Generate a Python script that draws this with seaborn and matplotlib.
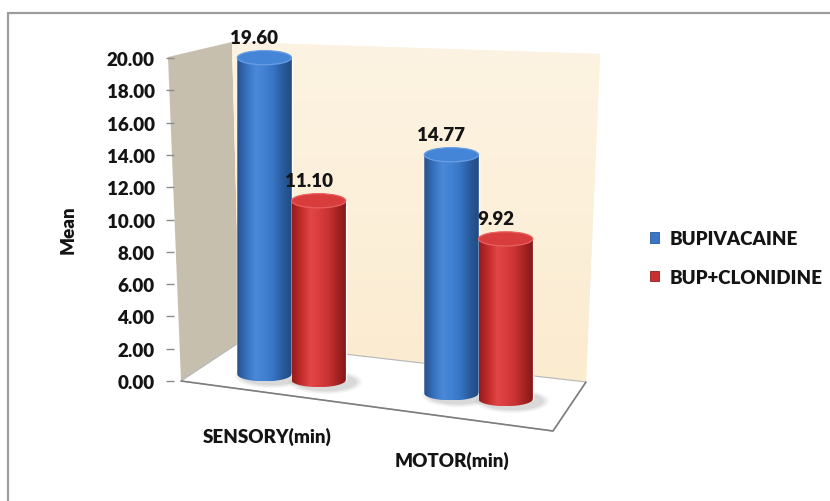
import numpy as np
import pandas as pd
import matplotlib
matplotlib.use("Agg")
import matplotlib.pyplot as plt
import seaborn as sns
from matplotlib.patches import Polygon, Ellipse, PathPatch, Patch
from matplotlib.path import Path
from matplotlib.colors import LinearSegmentedColormap
from matplotlib.lines import Line2D

# ---- data -------------------------------------------------------------
categories = ["SENSORY(min)", "MOTOR(min)"]
groups = ["BUPIVACAINE", "BUP+CLONIDINE"]
bupivacaine = [19.60, 14.77]
bup_clonidine = [11.10, 9.92]
y_ticks = [0, 2, 4, 6, 8, 10, 12, 14, 16, 18, 20]
y_label = "Mean"

df = pd.DataFrame({
    "category": categories * 2,
    "group": [groups[0]] * len(categories) + [groups[1]] * len(categories),
    "value": bupivacaine + bup_clonidine,
})

# ---- style ------------------------------------------------------------
sns.set_style("white")
plt.rcParams["font.family"] = ["Lato", "DejaVu Sans"]
WT = "heavy"
plt.rcParams["font.weight"] = WT
TXT = "#141414"
FS = 13.5

W, H = 830, 502
fig = plt.figure(figsize=(W / 100, H / 100), dpi=100)
ax = fig.add_axes([0, 0, 1, 1])

# canvas layout: category centre spacing and value scale in pixels
X0, XS = 291.5, 187.0
Y0, YS = 382.0, 16.15


def px(x):
    return (x - X0) / XS


def py(y):
    return (Y0 - y) / YS


palette = ["#3a76c6", "#c9302f"]
sns.barplot(data=df, x="category", y="value", hue="group", order=categories,
            hue_order=groups, palette=palette, width=0.58, ax=ax,
            legend=False, zorder=2)
bars = list(ax.patches)

ax.set_autoscale_on(False)
ax.set_xlim(px(0), px(W))
ax.set_ylim(py(H), py(0))
ax.set_xticks([])
ax.set_xlabel("")
ax.set_ylabel("")
for s in ax.spines.values():
    s.set_visible(False)


def poly(points, **kw):
    p = Polygon([(px(a), py(b)) for a, b in points], closed=True, **kw)
    ax.add_patch(p)
    return p


# ---- walls and floor ----------------------------------------------------
poly([(168, 58), (232, 43), (240, 343), (181, 382)],
     facecolor="#c6bfae", edgecolor="none", zorder=0.5)

back = poly([(232, 43), (600, 55), (586, 383), (240, 343)],
            facecolor="#fcf0d9", edgecolor="none", zorder=0.5)
wall_cmap = LinearSegmentedColormap.from_list("wall", ["#fbebcf", "#fcf0da", "#fdf3e2"])
wall_img = ax.imshow(np.linspace(0, 1, 256).reshape(-1, 1), cmap=wall_cmap,
                     extent=(px(232), px(600), py(383), py(43)),
                     origin="lower", aspect="auto", zorder=0.6)
wall_img.set_clip_path(back)

poly([(181, 382), (240, 343), (586, 383), (553, 432)],
     facecolor="white", edgecolor="#b5b5b5", linewidth=0.8, zorder=0.7)
ax.plot([px(181), px(553), px(586)], [py(382), py(432), py(383)],
        color="#7d7d7d", linewidth=1.2, zorder=0.8)

# ---- cylinders ----------------------------------------------------------
body_cmaps = [
    LinearSegmentedColormap.from_list(
        "blue_body", ["#284f88", "#3570bc", "#4a88d8", "#4282d3", "#3674c4", "#2a5b9c", "#214a80"]),
    LinearSegmentedColormap.from_list(
        "red_body", ["#951c1c", "#c22c2c", "#e24646", "#d83c3c", "#c73232", "#a32222", "#821818"]),
]
top_colors = [("#4585d8", "#6a9ee2"), ("#d93c3c", "#e86060")]
ell_h = 0.88
t = np.linspace(np.pi, 2 * np.pi, 60)

for bar in bars:
    x0, w, h = bar.get_x(), bar.get_width(), bar.get_height()
    cx = x0 + w / 2
    cat = int(round(cx))
    hue = 0 if cx < cat else 1
    base = 0.42 - 1.18 * cat - 0.36 * hue
    bar.set_y(base)
    top = base + h
    z = 2 + hue * 0.5

    # soft floor shadow
    for k, a in enumerate([0.06, 0.08, 0.10]):
        ax.add_patch(Ellipse((cx + 7 / XS, base - 0.12), w * (1.35 - 0.1 * k),
                             ell_h * (1.7 - 0.2 * k), facecolor="#5a5a5a",
                             edgecolor="none", alpha=a, zorder=1.5))

    verts = [(x0, top), (x0, base)]
    verts += [(cx + w / 2 * np.cos(a), base + ell_h / 2 * np.sin(a)) for a in t]
    verts += [(x0 + w, top), (x0, top)]
    codes = [Path.MOVETO] + [Path.LINETO] * (len(verts) - 2) + [Path.CLOSEPOLY]
    body = PathPatch(Path(verts, codes), facecolor="none", edgecolor="none",
                     transform=ax.transData, zorder=z)
    ax.add_patch(body)
    bar.set_zorder(z - 0.05)

    img = ax.imshow(np.linspace(0, 1, 256).reshape(1, -1), cmap=body_cmaps[hue],
                    extent=(x0, x0 + w, base - ell_h / 2, top), origin="lower",
                    aspect="auto", zorder=z + 0.01)
    img.set_clip_path(body)

    face, rim = top_colors[hue]
    ax.add_patch(Ellipse((cx, top), w, ell_h, facecolor=face, edgecolor=rim,
                         linewidth=0.9, zorder=z + 0.1))

    ax.text(cx - 10 / XS, top + 1.25, f"{h:.2f}", ha="center", va="center",
            fontsize=FS, fontweight=WT, color=TXT, zorder=5)

# ---- value axis ---------------------------------------------------------
ax.spines["left"].set_position(("data", px(174)))
ax.set_yticks(y_ticks)
ax.set_yticklabels([f"{v:.2f}" for v in y_ticks])
ax.tick_params(axis="y", direction="out", left=True, length=6, width=1,
               color="#8c8c8c", pad=8, labelsize=FS, labelcolor=TXT)
for lab in ax.get_yticklabels():
    lab.set_fontweight(WT)

ax.text(px(68), py(230), y_label, rotation=90, ha="center", va="center",
        fontsize=FS, fontweight=WT, color=TXT)

# category labels along the slanted floor
ax.text(px(267), py(437), categories[0], ha="center", va="center",
        fontsize=FS, fontweight=WT, color=TXT)
ax.text(px(452), py(461), categories[1], ha="center", va="center",
        fontsize=FS, fontweight=WT, color=TXT)

# ---- legend -------------------------------------------------------------
handles = [Patch(facecolor=palette[0], edgecolor="#2a5b9e", linewidth=0.6),
           Patch(facecolor=palette[1], edgecolor="#8e1f1f", linewidth=0.6)]
ax.legend(handles, groups, loc="center left",
          bbox_to_anchor=(650 / W, 1 - 259 / H), bbox_transform=fig.transFigure,
          frameon=False, handlelength=0.5, handleheight=0.5,
          handletextpad=0.55, labelspacing=1.15, borderpad=0, borderaxespad=0,
          prop={"weight": WT, "size": FS}, labelcolor=TXT)

# ---- chart border (left and top edges) ------------------------------------
fig.add_artist(Line2D([7.5 / W, 7.5 / W], [0, 1 - 14 / H], transform=fig.transFigure,
                      color="#9c9c9c", linewidth=1.6))
fig.add_artist(Line2D([7.5 / W, 1], [1 - 14 / H, 1 - 14 / H], transform=fig.transFigure,
                      color="#9c9c9c", linewidth=1.6))

fig.savefig("out.png", dpi=100)
